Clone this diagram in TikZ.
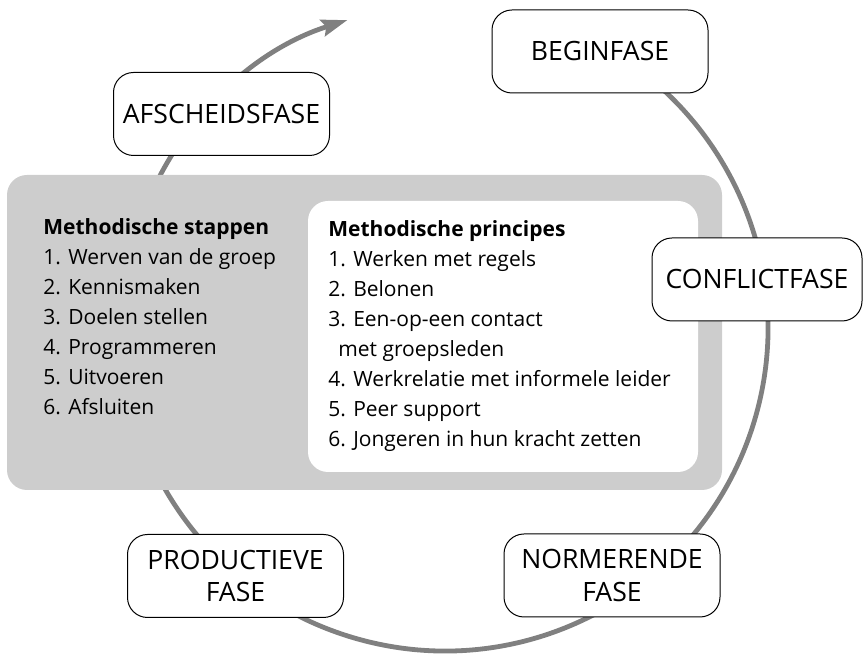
\documentclass[tikz,border=0pt]{standalone}
\usepackage{fontspec}
\setmainfont{Open Sans}
\usetikzlibrary{arrows.meta}
\definecolor{cirkelgrijs}{HTML}{808080}
\definecolor{vlakgrijs}{HTML}{CDCDCD}
\tikzset{fase/.style={draw, line width=0.5pt, fill=white, rounded corners=10pt, minimum width=108pt, minimum height=41.5pt, align=center, font=\fontsize{13.3}{16}\selectfont}}
\tikzset{lijst/.style={anchor=base west, inner sep=0pt, align=left, font=\fontsize{10.5}{15}\selectfont}}
\tikzset{cirkel/.style={draw=cirkelgrijs, line width=2.4pt, -{Stealth[length=13pt, width=8.5pt, inset=2pt]}}}

\begin{document}
\begin{tikzpicture}[x=0.5pt, y=0.5pt]
\useasboundingbox (0,0) rectangle (863,656);
\coordinate (midden) at (445,328);
\path (midden) ++(75:323) coordinate (start);
\draw[cirkel] (start) arc[start angle=75, end angle=-252.4, radius=323];
\fill[vlakgrijs, rounded corners=10pt] (7,166) rectangle (722,481);
\fill[white, rounded corners=10pt] (308,184) rectangle (698,455);
\node[fase] (begin) at (600,604.5) {BEGINFASE};
\node[fase, minimum width=105pt] (conflict) at (757,376.5) {CONFLICTFASE};
\node[fase] (normerend) at (612,80.5) {NORMERENDE\\FASE};
\node[fase] (productief) at (235.5,80) {PRODUCTIEVE\\FASE};
\node[fase] (afscheid) at (221.5,542) {AFSCHEIDSFASE};
\node[lijst] (stappen) at (43,241) {\textbf{Methodische stappen}\\1. Werven van de groep\\2. Kennismaken\\3. Doelen stellen\\4. Programmeren\\5. Uitvoeren\\6. Afsluiten};
\node[lijst] (principes) at (328,209) {\textbf{Methodische principes}\\1. Werken met regels\\2. Belonen\\3. Een-op-een contact\\\hspace{5pt}met groepsleden\\4. Werkrelatie met informele leider\\5. Peer support\\6. Jongeren in hun kracht zetten};
\end{tikzpicture}
\end{document}
